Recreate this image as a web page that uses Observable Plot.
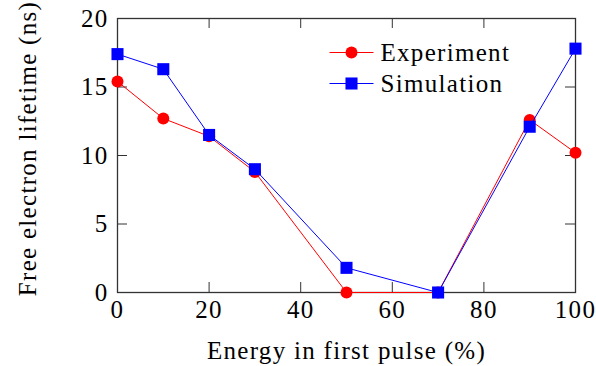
<!DOCTYPE html>
<html>
<head>
<meta charset="utf-8">
<script src="https://cdn.jsdelivr.net/npm/d3@7"></script>
<script src="https://cdn.jsdelivr.net/npm/@observablehq/plot@0.6"></script>
<style>
  html, body { margin: 0; padding: 0; background: #fff; }
  svg text { font-family: "Liberation Serif", "Times New Roman", serif; letter-spacing: 1.3px; }
</style>
</head>
<body>
<div id="chart"></div>
<script>
const energy = [0, 10, 20, 30, 50, 70, 90, 100];
const experiment = [15.4, 12.7, 11.4, 8.8, 0, 0, 12.6, 10.2];
const simulation = [17.4, 16.3, 11.5, 9.0, 1.8, 0, 12.1, 17.8];
const xTicks = [0, 20, 40, 60, 80, 100];
const yTicks = [0, 5, 10, 15, 20];
const seriesNames = ["Experiment", "Simulation"];
const xLabel = "Energy in first pulse (%)";
const yLabel = "Free electron lifetime (ns)";

const W = 596, H = 366;
const mL = 117, mR = 21, mT = 18, mB = 74;
const fw = W - mL - mR, fh = H - mT - mB;
const font = '"Liberation Serif", "Times New Roman", serif';
const fs = 25;
const axisColor = "#333";

const rows = (vals) => energy.map((e, i) => ({x: e, y: vals[i]}));
const expRows = rows(experiment);
const simRows = rows(simulation);

const lineSymbol = { draw(ctx) { ctx.moveTo(-22, 0); ctx.lineTo(22, 0); } };

const series = [
  {name: seriesNames[0], data: expRows, color: "#ff0000", symbol: "circle", r: 6},
  {name: seriesNames[1], data: simRows, color: "#0000ff", symbol: "square", r: 6.8}
];

const marks = [];
marks.push(Plot.tickX(xTicks, {x: d => d, stroke: axisColor, strokeWidth: 1, insetTop: fh - 10}));
marks.push(Plot.tickX(xTicks, {x: d => d, stroke: axisColor, strokeWidth: 1, insetBottom: fh - 10}));
marks.push(Plot.tickY(yTicks, {y: d => d, stroke: axisColor, strokeWidth: 1, insetRight: fw - 10}));
marks.push(Plot.tickY(yTicks, {y: d => d, stroke: axisColor, strokeWidth: 1, insetLeft: fw - 10}));
marks.push(Plot.frame({stroke: axisColor, strokeWidth: 1.3}));
marks.push(Plot.axisX(xTicks, {tickSize: 0, tickPadding: 8, label: null, fontSize: fs, fontFamily: font, fill: "#000"}));
marks.push(Plot.axisY(yTicks, {tickSize: 0, tickPadding: 9, label: null, fontSize: fs, fontFamily: font, fill: "#000"}));

series.forEach((s, i) => {
  marks.push(Plot.line(s.data, {x: "x", y: "y", stroke: s.color, strokeWidth: 1}));
  marks.push(Plot.dot(s.data, {x: "x", y: "y", symbol: s.symbol, r: s.r, fill: s.color, stroke: "none"}));
  const dy = 34 + i * 31;
  marks.push(Plot.dot([s.name], {frameAnchor: "top-left", dx: 234, dy, symbol: lineSymbol, stroke: s.color, strokeWidth: 1, fill: "none"}));
  marks.push(Plot.dot([s.name], {frameAnchor: "top-left", dx: 234, dy, symbol: s.symbol, r: s.r, fill: s.color, stroke: "none"}));
  marks.push(Plot.text([s.name], {text: d => d, frameAnchor: "top-left", dx: 263, dy, textAnchor: "start", lineAnchor: "middle", fontSize: fs, fontFamily: font, fill: "#000"}));
});

marks.push(Plot.text([xLabel], {text: d => d, frameAnchor: "bottom", dy: 58, textAnchor: "middle", lineAnchor: "middle", fontSize: fs, fontFamily: font, fill: "#000"}));
marks.push(Plot.text([yLabel], {text: d => d, frameAnchor: "left", dx: -90, dy: -7, rotate: -90, textAnchor: "middle", lineAnchor: "middle", fontSize: fs, fontFamily: font, fill: "#000"}));

const chart = Plot.plot({
  width: W, height: H,
  marginLeft: mL, marginRight: mR, marginTop: mT, marginBottom: mB,
  style: {fontFamily: font, fontSize: fs + "px", background: "#fff", color: "#000"},
  x: {domain: [0, 100], axis: null},
  y: {domain: [0, 20], axis: null},
  marks
});
document.getElementById("chart").appendChild(chart);
</script>
</body>
</html>
